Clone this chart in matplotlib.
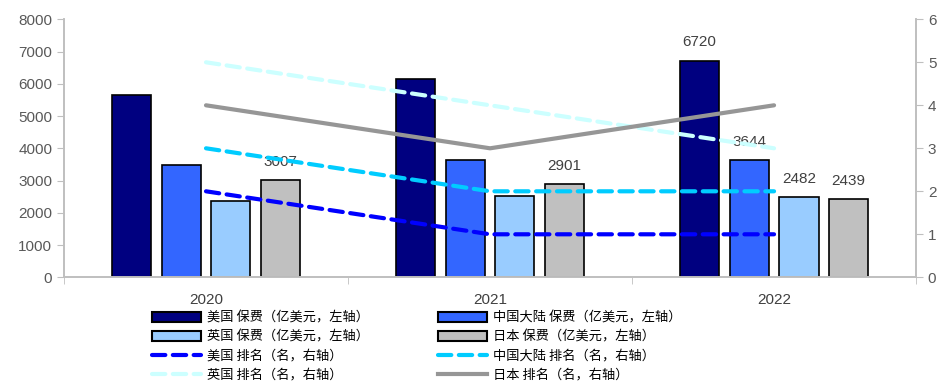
import numpy as np
import matplotlib.pyplot as plt
from matplotlib.lines import Line2D
from matplotlib.patches import Patch

plt.rcParams['font.family'] = ['Liberation Sans', 'Noto Sans CJK SC', 'DejaVu Sans']

years = ['2020', '2021', '2022']

# 保费（亿美元）
prem_us = [5650, 6140, 6720]
prem_cn = [3470, 3640, 3644]
prem_uk = [2380, 2520, 2482]
prem_jp = [3007, 2901, 2439]

# 排名
rank_us = [2, 1, 1]
rank_cn = [3, 2, 2]
rank_uk = [5, 4, 3]
rank_jp = [4, 3, 4]

bar_names = ['美国 保费（亿美元，左轴）', '中国大陆 保费（亿美元，左轴）',
             '英国 保费（亿美元，左轴）', '日本 保费（亿美元，左轴）']
line_names = ['美国 排名（名，右轴）', '中国大陆 排名（名，右轴）',
              '英国 排名（名，右轴）', '日本 排名（名，右轴）']

bar_colors = ['#000080', '#3366FF', '#99CCFF', '#C0C0C0']
line_colors = ['#0000FF', '#00CCFF', '#CCFFFF', '#969696']

gray = '#595959'
axis_gray = '#BFBFBF'

fig = plt.figure(figsize=(9.41, 3.83), dpi=100)
ax = fig.add_axes([0.068, 0.276, 0.9055, 0.6736])
ax2 = ax.twinx()

x = np.arange(len(years))
width = 0.138
step = 0.175
offsets = [-1.5 * step, -0.5 * step, 0.5 * step, 1.5 * step]

bars = []
for vals, off, c in zip([prem_us, prem_cn, prem_uk, prem_jp], offsets, bar_colors):
    b = ax.bar(x + off, vals, width, color=c, edgecolor='black', linewidth=1.2, zorder=2)
    bars.append(b)

# 数值标注
labels = [(3, 0), (3, 1), (0, 2), (1, 2), (2, 2), (3, 2)]
for s, i in labels:
    r = bars[s][i]
    ax.annotate(f'{r.get_height():.0f}', xy=(r.get_x() + r.get_width() / 2, r.get_height()),
                xytext=(0, 8), textcoords='offset points', ha='center', va='bottom',
                fontsize=11, color='#404040')

dash = (0, (3.2, 1.8))
styles = [dash, dash, dash, '-']
for vals, c, ls in zip([rank_us, rank_cn, rank_uk, rank_jp], line_colors, styles):
    ax2.plot(x, vals, color=c, linewidth=3, linestyle=ls,
             dash_capstyle='round', solid_capstyle='round', zorder=3)

ax.set_xlim(-0.5, 2.5)
ax.set_ylim(0, 8000)
ax.set_yticks(range(0, 8001, 1000))
ax2.set_ylim(0, 6)
ax2.set_yticks(range(0, 7))

ax.set_xticks(x)
ax.set_xticklabels(years)
ax.set_xticks([-0.5, 0.5, 1.5, 2.5], minor=True)
ax.tick_params(axis='x', which='major', length=0, pad=11, labelsize=11, labelcolor='#404040')
ax.tick_params(axis='x', which='minor', length=5, color=axis_gray, direction='out')
ax.tick_params(axis='y', length=5, color=axis_gray, labelsize=11, labelcolor=gray)
ax2.tick_params(axis='y', length=5, color=axis_gray, labelsize=11, labelcolor=gray)

for a in (ax, ax2):
    a.spines['top'].set_visible(False)
    for side in ('left', 'right', 'bottom'):
        a.spines[side].set_color(axis_gray)
        a.spines[side].set_linewidth(1.2)

bar_handles = [Patch(facecolor=c, edgecolor='black', linewidth=1.5) for c in bar_colors]
line_handles = [Line2D([], [], color=c, linewidth=3, linestyle=ls, dash_capstyle='round')
                for c, ls in zip(line_colors, styles)]

# 两列：左列 美国/英国，右列 中国大陆/日本
handles = [bar_handles[0], bar_handles[2], line_handles[0], line_handles[2],
           bar_handles[1], bar_handles[3], line_handles[1], line_handles[3]]
names = [bar_names[0], bar_names[2], line_names[0], line_names[2],
         bar_names[1], bar_names[3], line_names[1], line_names[3]]

fig.legend(handles, names, loc='upper left', bbox_to_anchor=(0.162, 0.186),
           ncol=2, frameon=False, handlelength=3.7, handleheight=0.8,
           handletextpad=0.45, labelspacing=0.44, columnspacing=5.2,
           borderpad=0, borderaxespad=0,
           prop={'family': ['Noto Sans CJK SC', 'DejaVu Sans'], 'size': 9.5})

fig.savefig('out.png', dpi=100)
